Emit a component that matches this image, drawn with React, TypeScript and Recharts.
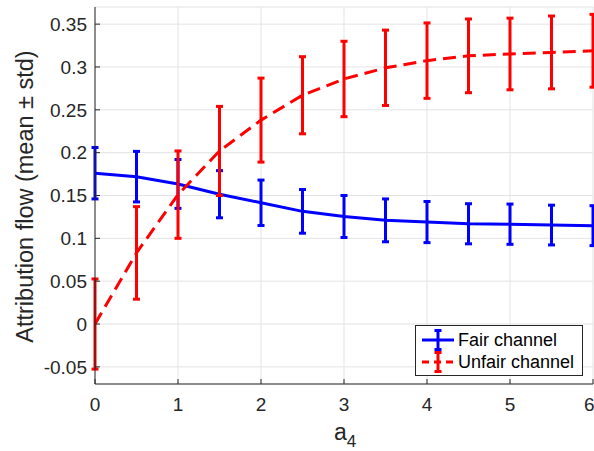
import React from "react";
import {
  ComposedChart,
  Line,
  ErrorBar,
  XAxis,
  YAxis,
  CartesianGrid,
  Legend,
} from "recharts";

// a_4 sweep, mean ± std of attribution flow per channel
const aValues = [0, 0.5, 1, 1.5, 2, 2.5, 3, 3.5, 4, 4.5, 5, 5.5, 6];
const fairMean = [0.176, 0.172, 0.1635, 0.1515, 0.1415, 0.1315, 0.1255, 0.121, 0.119, 0.117, 0.1165, 0.1155, 0.1148];
const fairStd = [0.03, 0.0295, 0.0285, 0.0275, 0.0265, 0.0255, 0.0245, 0.025, 0.024, 0.0234, 0.0235, 0.0232, 0.0233];
const unfairMean = [0, 0.083, 0.151, 0.202, 0.238, 0.267, 0.286, 0.299, 0.3074, 0.313, 0.3152, 0.317, 0.3189];
const unfairStd = [0.0526, 0.054, 0.051, 0.052, 0.049, 0.045, 0.044, 0.044, 0.044, 0.043, 0.0418, 0.0425, 0.0425];

const xTicks = [0, 1, 2, 3, 4, 5, 6];
const yTicks = [-0.05, 0, 0.05, 0.1, 0.15, 0.2, 0.25, 0.3, 0.35];

const FONT = "'Liberation Sans', Arial, Helvetica, sans-serif";
const AXIS = "#262626";
const BLUE = "#0000ff";
const RED = "#ff0000";

const chartData = aValues.map((a, i) => ({
  a,
  fair: fairMean[i],
  fairErr: fairStd[i],
  unfair: unfairMean[i],
  unfairErr: unfairStd[i],
}));

const fmtY = (v: number) => {
  if (Math.abs(v) < 1e-9) return "0";
  return String(Number(v.toFixed(2)));
};

const LegendIcon = ({ color, dashed }: { color: string; dashed?: boolean }) => (
  <svg width={34} height={22} style={{ display: "block" }}>
    <line
      x1={1}
      y1={11}
      x2={33}
      y2={11}
      stroke={color}
      strokeWidth={3}
      strokeDasharray={dashed ? "7 5" : undefined}
    />
    <line x1={17} y1={1} x2={17} y2={21} stroke={color} strokeWidth={3} />
    <line x1={13.5} y1={1.5} x2={20.5} y2={1.5} stroke={color} strokeWidth={3} />
    <line x1={13.5} y1={20.5} x2={20.5} y2={20.5} stroke={color} strokeWidth={3} />
  </svg>
);

const LegendBox = () => (
  <div
    style={{
      border: `1px solid ${AXIS}`,
      background: "#fff",
      fontFamily: FONT,
      fontSize: 18,
      color: "#000",
      padding: "3px 0 3px 5px",
      boxSizing: "border-box",
      width: 168,
      height: 51,
    }}
  >
    {[
      { name: "Fair channel", color: BLUE, dashed: false },
      { name: "Unfair channel", color: RED, dashed: true },
    ].map((it) => (
      <div key={it.name} style={{ display: "flex", alignItems: "center", height: 22 }}>
        <LegendIcon color={it.color} dashed={it.dashed} />
        <span style={{ marginLeft: 3, lineHeight: "22px" }}>{it.name}</span>
      </div>
    ))}
  </div>
);

const XLabel = ({ viewBox }: any) => {
  const cx = viewBox.x + viewBox.width / 2;
  return (
    <text x={cx - 10} y={440} fontFamily={FONT} fontSize={23} fill={AXIS}>
      a
      <tspan fontSize={17} dy={7}>
        4
      </tspan>
    </text>
  );
};

const YLabel = () => (
  <text
    x={33}
    y={196.5}
    transform="rotate(-90 33 196.5)"
    textAnchor="middle"
    fontFamily={FONT}
    fontSize={23.5}
    fill={AXIS}
  >
    Attribution flow (mean ± std)
  </text>
);

export default function App() {
  return (
    <div style={{ position: "absolute", left: 0, top: 0, background: "#fff" }}>
      <ComposedChart
        width={594}
        height={451}
        data={chartData}
        margin={{ top: 7, right: 1, bottom: 0, left: 0 }}
      >
        <CartesianGrid stroke="#e3e3e3" strokeWidth={1} />
        <XAxis
          dataKey="a"
          type="number"
          domain={[0, 6]}
          ticks={xTicks}
          allowDataOverflow
          height={67}
          stroke={AXIS}
          tickSize={-5}
          tickMargin={19}
          tick={{ fill: AXIS, fontSize: 19, fontFamily: FONT }}
          label={{ content: <XLabel /> }}
        />
        <XAxis
          xAxisId="top"
          orientation="top"
          type="number"
          domain={[0, 6]}
          ticks={xTicks}
          allowDataOverflow
          height={0}
          stroke={AXIS}
          tickSize={-5}
          tick={false}
        />
        <YAxis
          type="number"
          domain={[-0.07, 0.37]}
          ticks={yTicks}
          allowDataOverflow
          width={95}
          stroke={AXIS}
          tickSize={-5}
          tickMargin={13}
          tickFormatter={fmtY}
          tick={{ fill: AXIS, fontSize: 19, fontFamily: FONT }}
          label={{ content: <YLabel /> }}
        />
        <YAxis
          yAxisId="right"
          orientation="right"
          type="number"
          domain={[-0.07, 0.37]}
          ticks={yTicks}
          allowDataOverflow
          width={0}
          stroke={AXIS}
          tickSize={-5}
          tick={false}
        />
        <Line
          type="linear"
          dataKey="fair"
          stroke={BLUE}
          strokeWidth={3}
          dot={false}
          isAnimationActive={false}
        >
          <ErrorBar dataKey="fairErr" direction="y" width={3.5} stroke={BLUE} strokeWidth={3} />
        </Line>
        <Line
          type="linear"
          dataKey="unfair"
          stroke={RED}
          strokeWidth={3}
          strokeDasharray="13 7"
          dot={false}
          isAnimationActive={false}
        >
          <ErrorBar dataKey="unfairErr" direction="y" width={3.5} stroke={RED} strokeWidth={3} />
        </Line>
        <Legend
          layout="vertical"
          align="center"
          verticalAlign="middle"
          wrapperStyle={{ left: 415, top: 325, width: 168, height: 51 }}
          content={<LegendBox />}
        />
      </ComposedChart>
    </div>
  );
}
